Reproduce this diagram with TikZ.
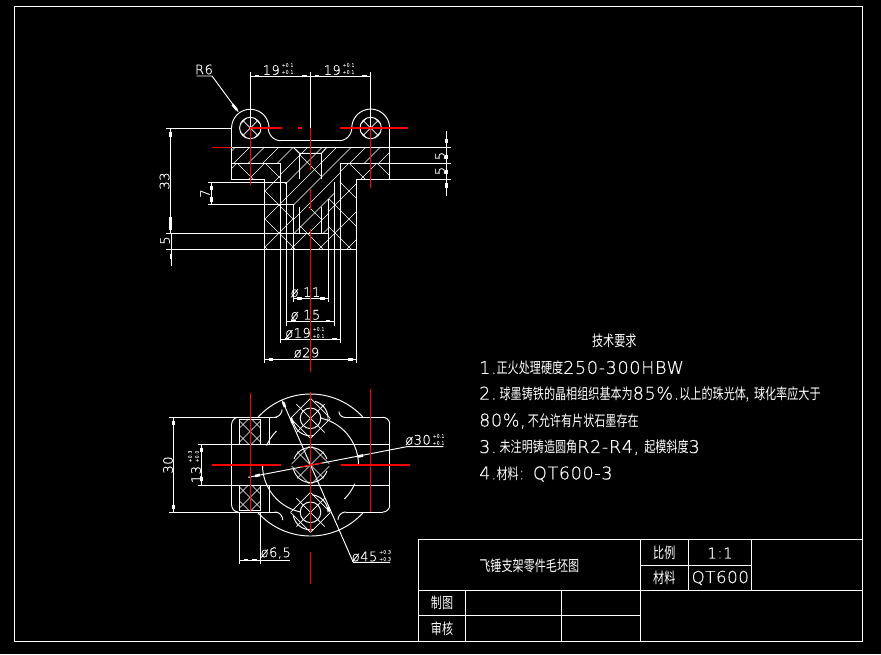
\documentclass[tikz,border=0pt]{standalone}
\usepackage{fontspec}
\setmainfont{DejaVu Sans ExtraLight}[FakeBold=0.5,LetterSpace=4]
\newfontfamily\cjk{Noto Sans CJK SC}
\newcommand\cn[1]{\scalebox{.74}[1]{\fontsize{15}{15}\cjk\selectfont #1}}
\newcommand\arcc[5]{plot[domain=#4:#5,samples=32,smooth] ({#1+#3*cos(\x)},{#2-#3*sin(\x)})}
% \hatchS{x+y phase}{spacing}, \hatchB{x-y phase}{spacing}
\newcommand\hatchS[2]{\foreach \k in {-16,...,16}{\draw[hatch] ({#1+#2*\k-1000},{1000}) -- ({#1+#2*\k+1000},{-1000});}}
\newcommand\hatchB[2]{\foreach \k in {-16,...,16}{\draw[hatch] ({#1+#2*\k-1000},{-1000}) -- ({#1+#2*\k+1000},{1000});}}
\newcommand\tick[4]{\draw[tickm] (#1,#2) -- (#3,#4);}
\tikzset{
  wl/.style={white,line width=.95pt},
  rl/.style={red,line width=1.1pt},
  hatch/.style={white,line width=.65pt},
  tickm/.style={white,line width=2.6pt},
  txt/.style={white,inner sep=0pt,font=\fontsize{13}{13}\selectfont},
  big/.style={white,inner sep=0pt,anchor=west,font=\fontsize{17.5}{17.5}\selectfont},
  cnt/.style={white,inner sep=0pt,font=\fontsize{15}{15}\selectfont},
  tol/.style={white,inner sep=0pt,align=left,font=\fontsize{4.6}{7}\selectfont}
}
\begin{document}
\begin{tikzpicture}[x=1pt,y=-1pt]
\useasboundingbox[fill=black] (0,0) rectangle (881,654);
% frame
\draw[wl] (14.5,6.5) rectangle (862,641.5);
% title block
\draw[wl] (418.3,641.5) -- (418.3,539.7) -- (862,539.7);
\draw[wl] (418.3,590.3) -- (862,590.3);
\draw[wl] (418.3,615.3) -- (640.3,615.3);
\draw[wl] (640.3,539.7) -- (640.3,641.5);
\draw[wl] (465.7,590.3) -- (465.7,641.5);
\draw[wl] (561.3,590.3) -- (561.3,641.5);
\draw[wl] (688.3,539.7) -- (688.3,590.3);
\draw[wl] (751.7,539.7) -- (751.7,590.3);
\draw[wl] (640.3,565.3) -- (751.7,565.3);
\node[cnt] (title) at (529.3,565.7) {\cn{飞锤支架零件毛坯图}};
\node[cnt] (bili) at (664.3,553.3) {\cn{比例}};
\node[txt,font=\fontsize{15}{15}\selectfont] (scale) at (720,553) {1:1};
\node[cnt] (cailiao) at (664.3,577.7) {\cn{材料}};
\node[big,font=\fontsize{16.5}{16.5}\selectfont] (mat) at (691.5,578) {QT600};
\node[cnt] (zhitu) at (442,603.3) {\cn{制图}};
\node[cnt] (shenhe) at (442,628.3) {\cn{审核}};
% technical notes
\node[cnt] (req) at (614.3,340.7) {\cn{技术要求}};
\node[big] (n1) at (479,368) {1.\cn{正火处理硬度}250-300HBW};
\node[big] (n2) at (479,394.5) {2.\hspace{3pt}\cn{球墨铸铁的晶相组织基本为}85\%.\cn{以上的珠光体,}\hspace{5pt}\cn{球化率应大于}};
\node[big] (n3) at (479,421) {80\%,\hspace{2pt}\cn{不允许有片状石墨存在}};
\node[big] (n4) at (479,447.5) {3.\hspace{3pt}\cn{未注明铸造圆角}R2-R4,\hspace{5pt}\cn{起模斜度}3};
\node[big] (n5) at (479,474) {4.\cn{材料}: QT600-3};
% ---------- section view hatching
\begin{scope}
\clip (231.6,147.3) -- (389.6,147.3) -- (389.6,163.3) -- (340.5,163.3) -- (340.5,181.6) -- (334.3,181.6) -- (334.3,199) -- (328.3,199) -- (328.3,233.3) -- (293.3,233.3) -- (293.3,204.3) -- (286.7,204.3) -- (286.7,182.3) -- (280.3,182.3) -- (280.3,163.3) -- (231.6,163.3) -- cycle;
\hatchS{469.5}{14.5}
\end{scope}
\begin{scope}
\clip (231.6,163.3) -- (280.3,163.3) -- (280.3,182.3) -- (286.7,182.3) -- (286.7,204.3) -- (293.3,204.3) -- (293.3,233.3) -- (328.3,233.3) -- (328.3,199) -- (334.3,199) -- (334.3,181.6) -- (340.5,181.6) -- (340.5,163.3) -- (389.6,163.3) -- (389.6,179.5) -- (356.7,179.5) -- (356.7,249.5) -- (264.5,249.5) -- (264.5,179.5) -- (231.6,179.5) -- cycle;
\hatchS{484}{28}\hatchB{74}{28}
\end{scope}
\begin{scope}
\clip (299.5,153.3) rectangle (321.5,179);
\hatchB{145}{28}
\end{scope}
\begin{scope}
\clip (299.5,207) rectangle (321.5,233.3);
\hatchB{74}{28}
\end{scope}
\begin{scope}
\clip (250.3,128) circle[radius=10.7];
\hatchS{378.3}{14}\hatchB{122.3}{14}
\end{scope}
\begin{scope}
\clip (370.7,128) circle[radius=10.7];
\hatchS{498.7}{14}\hatchB{242.7}{14}
\end{scope}
% section outline
\draw[wl] \arcc{250.3}{128}{18.7}{180}{0};
\draw[wl] \arcc{281}{128}{12.7}{180}{270};
\draw[wl] (281,140.7) -- (339,140.7);
\draw[wl] \arcc{339}{128}{12.7}{270}{360};
\draw[wl] \arcc{370.7}{128}{18.9}{180}{0};
\draw[wl] (231.6,128) -- (231.6,179.5) -- (264.5,179.5) -- (264.5,249.5);
\draw[wl] (389.6,128) -- (389.6,179.5) -- (356.7,179.5) -- (356.7,249.5);
\draw[wl] (250.3,128) circle[radius=10.7];
\draw[wl] (370.7,128) circle[radius=10.7];
\draw[wl] (231.6,147.3) -- (451,147.3);
\draw[wl] (231.6,163.3) -- (280.3,163.3) -- (280.3,249.5);
\draw[wl] (451,163.3) -- (340.5,163.3) -- (340.5,249.5);
\draw[wl] (389.6,179.5) -- (451,179.5);
\draw[wl] (293.3,147.3) -- (299.5,153.3) -- (321.5,153.3) -- (326.7,147.3);
\draw[wl] (299.5,153.3) -- (299.5,179);
\draw[wl] (321.5,153.3) -- (321.5,179);
\draw[wl] (299.5,207) -- (299.5,233.3);
\draw[wl] (321.5,207) -- (321.5,233.3);
\draw[wl] (208,182.3) -- (286.7,182.3) -- (286.7,249.5);
\draw[wl] (208,204.3) -- (293.3,204.3) -- (293.3,249.5);
\draw[wl] (334.3,181.6) -- (334.3,249.5);
\draw[wl] (328.3,199) -- (328.3,249.5);
\draw[wl] (166,233.3) -- (328.3,233.3);
\draw[wl] (166,249.5) -- (356.7,249.5);
% extension lines below
\draw[wl] (293.3,249.5) -- (293.3,302.3);
\draw[wl] (328.3,249.5) -- (328.3,302.3);
\draw[wl] (286.7,249.5) -- (286.7,325.7);
\draw[wl] (334.3,249.5) -- (334.3,325.7);
\draw[wl] (280.3,249.5) -- (280.3,343);
\draw[wl] (340.5,249.5) -- (340.5,343);
\draw[wl] (264.5,249.5) -- (264.5,363);
\draw[wl] (356.7,249.5) -- (356.7,363);
\draw[wl] (293.3,298.3) -- (328.3,298.3);
\draw[wl] (286.7,321) -- (334.3,321);
\draw[wl] (280.3,339) -- (340.5,339);
\draw[wl] (264.5,359.3) -- (356.7,359.3);
\tick{297}{298.3}{302}{298.3}\tick{319.5}{298.3}{324.5}{298.3}
\tick{291}{321}{295.5}{321}\tick{325.5}{321}{330}{321}
\tick{284.5}{339}{289}{339}\tick{332}{339}{336.5}{339}
\tick{268.5}{359.3}{273}{359.3}\tick{348}{359.3}{352.5}{359.3}
\node[txt] (d11) at (305.5,292.3) {ø 11};
\node[txt] (d15) at (305.5,315) {ø 15};
\node[txt,anchor=east] (d19) at (311,333) {ø19};
\node[tol,anchor=west] (d19t) at (312.5,332.5) {+0.1\\+0.1};
\node[txt] (d29) at (306.5,352.7) {ø29};
% top dimension
\draw[wl] (250.3,72) -- (250.3,128);
\draw[wl] (370.7,72) -- (370.7,128);
\draw[wl] (310.5,72) -- (310.5,128);
\draw[wl] (250.3,76) -- (370.7,76);
\tick{254.5}{76}{259}{76}\tick{302}{76}{306.5}{76}\tick{314.5}{76}{319}{76}\tick{362}{76}{366.5}{76}
\node[txt,anchor=east] (w19a) at (280,70) {19};
\node[tol,anchor=west] (w19at) at (281.5,68.5) {+0.1\\+0.1};
\node[txt,anchor=east] (w19b) at (341,70) {19};
\node[tol,anchor=west] (w19bt) at (342.5,68.5) {+0.1\\+0.1};
\node[txt] (r6) at (204,69.5) {R6};
\coordinate (r6a) at (196.7,76);
\coordinate (r6b) at (212,76);
\coordinate (r6c) at (238.3,111.7);
\draw[wl] (r6a) -- (r6b) -- (r6c);
\tick{232.5}{104.5}{237}{110}
% left dimensions
\draw[wl] (166,128) -- (231.6,128);
\draw[wl] (170.7,128) -- (170.7,233.3);
\tick{170.7}{132}{170.7}{136.5}\tick{170.7}{217}{170.7}{230}
\node[txt,rotate=90] (h33) at (164.5,181) {33};
\draw[wl] (171.5,233.3) -- (171.5,265.7);
\tick{171}{254}{171}{258.5}
\node[txt,rotate=90] (h5) at (165,240.5) {5};
\draw[wl] (211.7,182.3) -- (211.7,204.3);
\tick{211.7}{185.5}{211.7}{190}\tick{211.7}{197}{211.7}{201.5}
\node[txt,rotate=90] (h7) at (205,193.5) {7};
% right dimensions
\draw[wl] (446.3,131) -- (446.3,196);
\tick{446.3}{138.5}{446.3}{143}\tick{446.3}{154.5}{446.3}{159}\tick{446.3}{169.5}{446.3}{174}\tick{446.3}{183}{446.3}{187.5}
\node[txt,rotate=90] (r5a) at (440,156) {5};
\node[txt,rotate=90] (r5b) at (440,171) {5};
% section centre lines
\draw[rl] (250.3,128) -- (281.7,128);
\draw[rl] (298,128) -- (302,128);
\draw[rl] (340,128) -- (407.7,128);
\draw[rl] (212,147.3) -- (231.6,147.3);
\draw[rl] (250.3,128) -- (250.3,185);
\draw[rl] (370.7,128) -- (370.7,187.5);
\draw[rl] (310.5,128) -- (310.5,170);
\draw[rl] (310.5,189) -- (310.5,210);
\draw[rl] (310.5,229) -- (310.5,371.7);
% ---------- plan view
\begin{scope}
\clip (239.3,419) rectangle (260.7,444);
\hatchS{681.5}{14}\hatchB{-181.5}{14}
\end{scope}
\begin{scope}
\clip (239.3,485.3) rectangle (260.7,510);
\hatchS{747.5}{14}\hatchB{-247.5}{14}
\end{scope}
\draw[wl] (239.3,419) rectangle (260.7,444);
\draw[wl] (239.3,485.3) rectangle (260.7,510);
\begin{scope}
\clip (310.5,418.3) circle[radius=20];
\hatchS{728.8}{20}\hatchB{-107.8}{20}
\end{scope}
\begin{scope}
\clip (310.5,465) circle[radius=19];
\hatchS{775.5}{20}\hatchB{-154.5}{20}
\end{scope}
\begin{scope}
\clip (310.5,512.3) circle[radius=20];
\hatchS{822.8}{20}\hatchB{-201.8}{20}
\end{scope}
% outline with rounded corners
\draw[wl] (169.3,417.3) -- (276.7,417.3);
\draw[wl] (345,417.3) -- (382.7,417.3);
\draw[wl] \arcc{382.7}{424.3}{7}{90}{0};
\draw[wl] (389.7,424.3) -- (389.7,505);
\draw[wl] \arcc{382.7}{505}{7}{0}{-90};
\draw[wl] (169.3,512) -- (276.7,512);
\draw[wl] (346,512) -- (382.7,512);
\draw[wl] (231.7,424.3) -- (231.7,505);
\draw[wl] \arcc{238.7}{424.3}{7}{180}{90};
\draw[wl] \arcc{238.7}{505}{7}{180}{270};
\draw[wl] \arcc{274}{409.3}{8}{270}{360};
\draw[wl] \arcc{345}{411.3}{6}{180}{270};
\draw[wl] \arcc{274.7}{520}{8}{0}{90};
\draw[wl] \arcc{346}{520}{8}{90}{180};
% large circle
\draw[wl] \arcc{310.5}{465}{71}{42}{138};
\draw[wl] \arcc{310.5}{465}{71}{222}{318};
\draw[wl] \arcc{310.5}{465}{48}{0}{78};
\draw[wl] \arcc{310.5}{465}{48}{135}{156};
\draw[wl] \arcc{310.5}{465}{48}{180}{258};
\draw[wl] \arcc{310.5}{465}{48}{-45}{-23};
\draw[wl] (269.3,417.3) -- (269.3,444);
\draw[wl] (269.3,485.3) -- (269.3,512);
% lobes
\draw[wl] (310.5,418.3) circle[radius=10.3];
\draw[wl] (310.5,512.3) circle[radius=10.3];
\draw[wl] \arcc{310.5}{418.3}{17.5}{-5}{75};
\draw[wl] \arcc{310.5}{418.3}{17.5}{190}{280};
\draw[wl] \arcc{310.5}{512.3}{17.5}{0}{85};
\draw[wl] \arcc{310.5}{512.3}{17.5}{190}{280};
\draw[wl] \arcc{310.5}{465}{17.5}{20}{160};
\draw[wl] \arcc{310.5}{465}{17.5}{190}{340};
\draw[wl] (197.7,444) -- (389.7,444);
\draw[wl] (197.7,485.3) -- (389.7,485.3);
% plan dimensions
\draw[wl] (173.7,417.3) -- (173.7,512);
\tick{173.7}{420.5}{173.7}{425}\tick{173.7}{504.5}{173.7}{509}
\node[txt,rotate=90] (p30) at (168,465) {30};
\draw[wl] (201.3,444) -- (201.3,485.3);
\tick{201.3}{447.5}{201.3}{452}\tick{201.3}{476.5}{201.3}{481}
\node[txt,rotate=90] (p13) at (196,474.5) {13};
\node[tol,rotate=90] (p13t) at (193.5,456.5) {+0.3\\+0.0};
\draw[wl] (239.3,512) -- (239.3,564);
\draw[wl] (260.7,512) -- (260.7,564);
\draw[wl] (239.3,560) -- (290,560);
\tick{243.5}{560}{248}{560}\tick{252}{560}{256.5}{560}
\node[txt] (p65) at (275.7,553) {ø6,5};
\coordinate (a1) at (248.3,477.3);
\coordinate (a2) at (406.7,446.7);
\coordinate (a3) at (443.3,446.7);
\draw[wl] (a1) -- (a2) -- (a3);
\tick{255}{476}{260}{475}\tick{358}{456.5}{363}{455.5}
\node[txt,anchor=east] (p30d) at (431,440) {ø30};
\node[tol,anchor=west] (p30t) at (432.5,439.5) {+0.1\\+0.1};
\coordinate (b1) at (282.3,400.7);
\coordinate (b2) at (353.3,562.3);
\coordinate (b3) at (390,562.3);
\draw[wl] (b1) -- (b2) -- (b3);
\tick{283}{402}{285}{407}\tick{291}{418}{292.5}{423}\tick{328}{507}{329.5}{511}
\node[txt,anchor=east] (p45) at (377.5,556.7) {ø45};
\node[tol,anchor=west] (p45t) at (379,555.5) {+0.3\\+0.3};
% plan centre lines
\draw[rl] (250.3,393) -- (250.3,512);
\draw[rl] (370.3,389.3) -- (370.3,512);
\draw[rl] (310.5,391.7) -- (310.5,531.7);
\draw[rl] (310.5,552) -- (310.5,584);
\draw[rl] (212,465) -- (281,465);
\draw[rl] (341,465) -- (410,465);
\draw[rl] (300,467) -- (322,463);
\end{tikzpicture}
\end{document}
